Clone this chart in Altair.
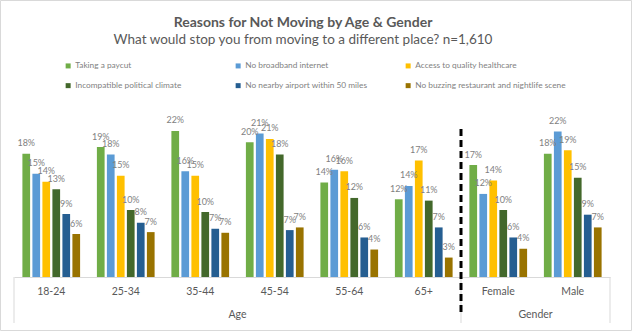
import altair as alt
import pandas as pd

categories = ["18-24", "25-34", "35-44", "45-54", "55-64", "65+", "Female", "Male"]
series = [
    "Taking a paycut",
    "No broadband internet",
    "Access to quality healthcare",
    "Incompatible political climate",
    "No nearby airport within 50 miles",
    "No buzzing restaurant and nightlife scene",
]
colors = ["#70AD47", "#5B9BD5", "#FFC000", "#43682B", "#255E91", "#997300"]

paycut = [18.4, 19.4, 21.8, 20.1, 14.1, 11.6, 16.7, 18.4]
broadband = [15.4, 18.3, 15.8, 21.4, 16.0, 13.6, 12.4, 21.7]
healthcare = [14.2, 15.1, 15.1, 20.6, 15.8, 17.4, 14.4, 18.9]
political = [13.1, 10.0, 9.7, 18.3, 11.8, 11.4, 10.0, 14.8]
airport = [9.4, 8.1, 7.2, 7.0, 5.9, 7.4, 5.9, 9.3]
nightlife = [6.4, 6.7, 6.6, 7.4, 4.1, 2.9, 4.2, 7.4]

group_names = ["Age", "Gender"]
group_centers = ["45-54", "Male"]          # category whose left band edge is the group's centre
boundaries = [("18-24", 0), ("Female", 0), ("Male", 1)]

title_text = "Reasons for Not Moving by Age & Gender"
subtitle_text = "What would stop you from moving to a different place? n=1,610"

rows = []
for s, vals in zip(series, [paycut, broadband, healthcare, political, airport, nightlife]):
    for c, v in zip(categories, vals):
        rows.append({"category": c, "series": s, "value": v})
df = pd.DataFrame(rows)

W, H = 596, 167.5
FONT = "Lato"
GRAY = "#595959"
LGRAY = "#7f7f7f"

xscale = alt.Scale(domain=categories, paddingInner=0, paddingOuter=0)
xoff = alt.XOffset("series:N", sort=series,
                   scale=alt.Scale(domain=series, paddingInner=0.23, paddingOuter=0.84))
yscale = alt.Scale(domain=[0, 25])

xaxis = alt.Axis(labelAngle=0, ticks=False, tickSize=0, domainColor="#d9d9d9",
                 bandPosition=0.5, labelAlign="center", title=None,
                 labelFont=FONT, labelFontSize=10.5, labelColor=GRAY,
                 labelBaseline="middle", labelPadding=14.7, grid=False)

base = alt.Chart(df)

bars = base.mark_bar().encode(
    x=alt.X("category:N", sort=categories, scale=xscale, title=None, axis=xaxis),
    xOffset=xoff,
    y=alt.Y("value:Q", scale=yscale, axis=None),
    color=alt.Color("series:N", sort=series,
                    scale=alt.Scale(domain=series, range=colors),
                    legend=alt.Legend(orient="none", legendX=50, legendY=-48,
                                      direction="horizontal", columns=3, title=None,
                                      symbolType="square", symbolSize=25,
                                      symbolStrokeWidth=0, labelFont=FONT,
                                      labelFontSize=8.3, labelColor=LGRAY,
                                      labelOffset=3, columnPadding=8, rowPadding=11,
                                      gridAlign="all", padding=0)),
)

labels = base.transform_calculate(
    label="format(datum.value, '.0f') + '%'"
).mark_text(baseline="alphabetic", dy=-7.5, font=FONT, fontSize=9, color=LGRAY).encode(
    x=alt.X("category:N", sort=categories, scale=xscale, title=None),
    xOffset=xoff,
    y=alt.Y("value:Q", scale=yscale),
    text="label:N",
)

bdf = pd.DataFrame({"category": [b[0] for b in boundaries], "pos": [b[1] for b in boundaries]})
sep_left = alt.Chart(bdf[bdf.pos == 0]).mark_rule(color="#d9d9d9", strokeWidth=1).encode(
    x=alt.X("category:N", sort=categories, scale=xscale, bandPosition=0, title=None),
    y=alt.value(H), y2=alt.value(213.5),
)
sep_right = alt.Chart(bdf[bdf.pos == 1]).mark_rule(color="#d9d9d9", strokeWidth=1).encode(
    x=alt.X("category:N", sort=categories, scale=xscale, bandPosition=1, title=None),
    y=alt.value(H), y2=alt.value(213.5),
)

dash = alt.Chart(pd.DataFrame({"category": ["Female"]})).mark_rule(
    color="black", strokeWidth=3, strokeDash=[7, 4]
).encode(
    x=alt.X("category:N", sort=categories, scale=xscale, bandPosition=0, title=None),
    y=alt.value(19.5), y2=alt.value(205.5),
)

gdf = pd.DataFrame({"category": group_centers, "name": group_names})
group_labels = alt.Chart(gdf).mark_text(font=FONT, fontSize=10.5, color=GRAY,
                                        baseline="middle").encode(
    x=alt.X("category:N", sort=categories, scale=xscale, bandPosition=0, title=None),
    y=alt.value(205.5),
    text="name:N",
)

one = pd.DataFrame({"t": [title_text], "s": [subtitle_text]})
title = alt.Chart(one).mark_text(font=FONT, fontSize=14, fontWeight="bold", color=GRAY,
                                 baseline="alphabetic", align="center").encode(
    x=alt.value(289), y=alt.value(-82.5), text="t:N")
subtitle = alt.Chart(one).mark_text(font=FONT, fontSize=13.5, color=GRAY,
                                    baseline="alphabetic", align="center").encode(
    x=alt.value(289), y=alt.value(-65.5), text="s:N")

border = alt.Chart(one).mark_rect(fill=None, stroke="#d9d9d9", strokeWidth=1).encode(
    x=alt.value(-13.5), x2=alt.value(617.5), y=alt.value(-109), y2=alt.value(221))

chart = alt.layer(bars, labels, border, sep_left, sep_right, dash, group_labels,
                  title, subtitle).properties(
    width=W, height=H,
    autosize=alt.AutoSizeParams(type="none"),
    padding={"left": 14, "top": 109.5, "right": 22, "bottom": 54},
    background="white",
).configure_view(stroke=None)

chart.save("out.html", embed_options={"renderer": "svg", "actions": False})
